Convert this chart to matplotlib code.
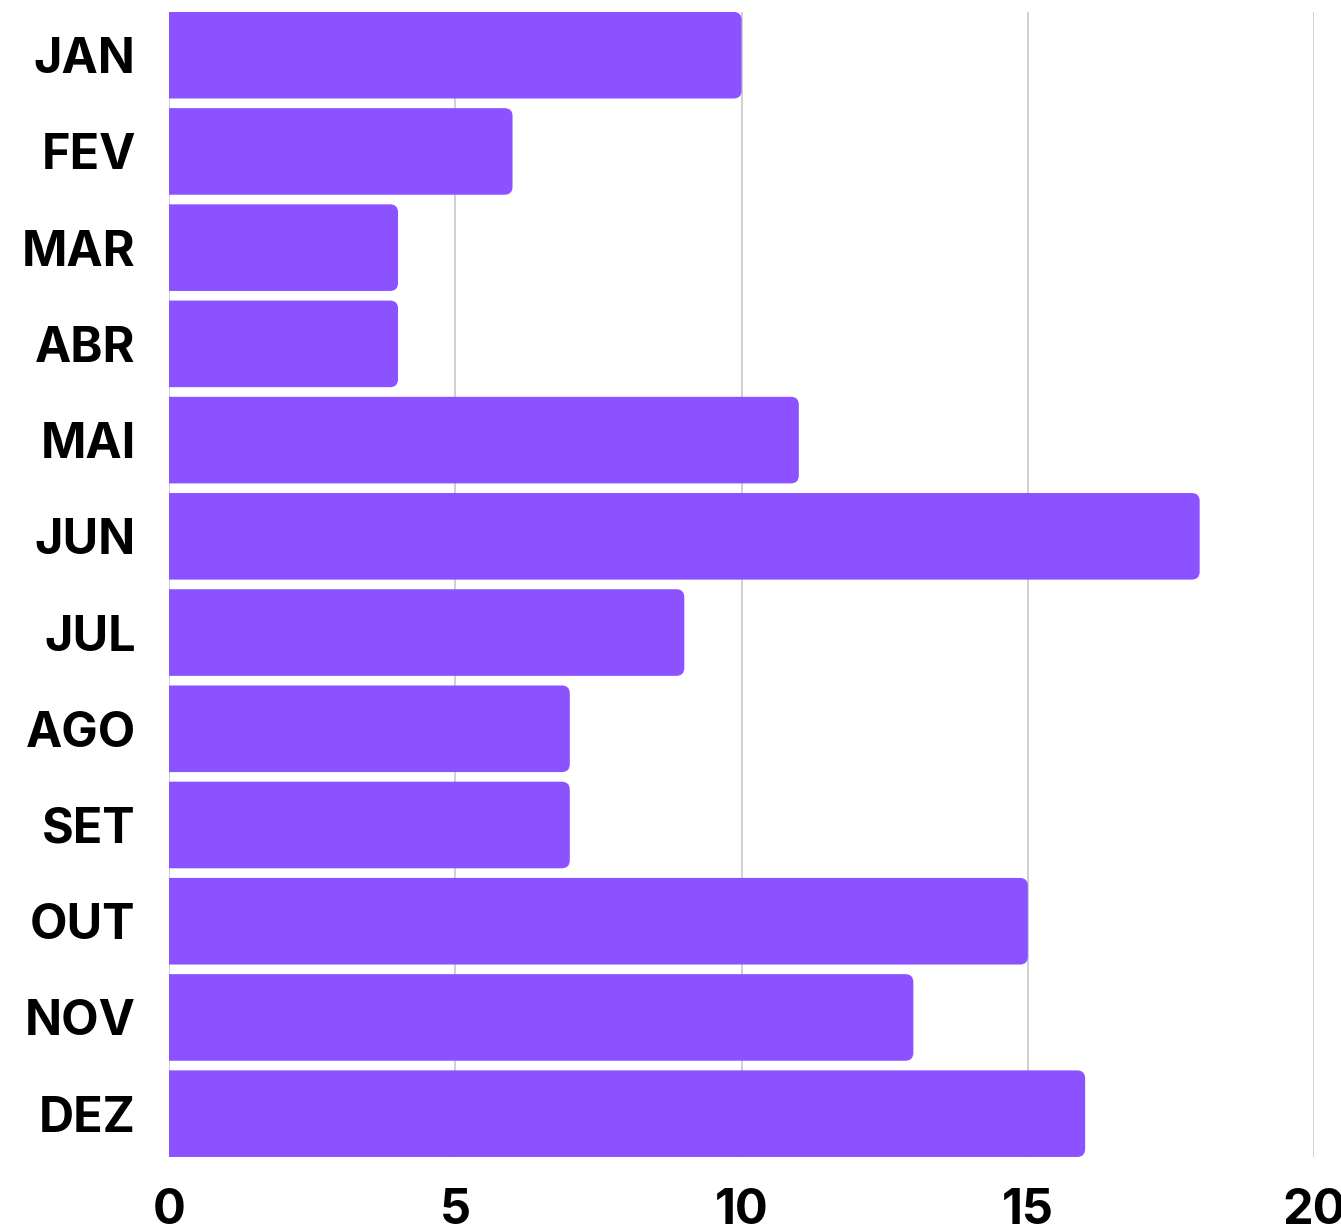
import matplotlib.pyplot as plt
from matplotlib.path import Path
from matplotlib.patches import PathPatch

plt.rcParams['font.family'] = ['Inter', 'DejaVu Sans']

months = ['JAN', 'FEV', 'MAR', 'ABR', 'MAI', 'JUN', 'JUL', 'AGO', 'SET', 'OUT', 'NOV', 'DEZ']
values = [10, 6, 4, 4, 11, 18, 9, 7, 7, 15, 13, 16]
xticks = [0, 5, 10, 15, 20]

bar_color = '#8c52ff'

fig = plt.figure(figsize=(13.41, 12.26), dpi=100)
ax = fig.add_axes([0.126, 0.0563, 0.854, 0.934])

bars = ax.barh(range(len(months)), values, height=0.9, color=bar_color, zorder=2)

ax.set_xlim(0, 20)
ax.set_ylim(11.45, -0.45)

# round the right end of each bar (radius ~8 px)
rx = 8 / 57.25
ry = 8 / 96.4
for r in bars:
    x0, y0, w, h = r.get_x(), r.get_y(), r.get_width(), r.get_height()
    x1, y1 = x0 + w, y0 + h
    verts = [(x0, y0), (x1 - rx, y0), (x1, y0), (x1, y0 + ry),
             (x1, y1 - ry), (x1, y1), (x1 - rx, y1), (x0, y1), (x0, y0)]
    codes = [Path.MOVETO, Path.LINETO, Path.CURVE3, Path.CURVE3,
             Path.LINETO, Path.CURVE3, Path.CURVE3, Path.LINETO, Path.CLOSEPOLY]
    r.set_visible(False)
    ax.add_patch(PathPatch(Path(verts, codes), facecolor=bar_color, edgecolor='none', zorder=2))

ax.set_yticks(range(len(months)))
ax.set_yticklabels(months)
ax.set_xticks(xticks)
ax.set_xticklabels([str(t) for t in xticks])
ax.tick_params(axis='both', length=0, labelsize=35)
ax.tick_params(axis='y', pad=24)
ax.tick_params(axis='x', pad=22)
for lab in ax.get_xticklabels() + ax.get_yticklabels():
    lab.set_fontweight('bold')

ax.grid(axis='x', color='#c8c8c8', linewidth=1.2, zorder=0)
ax.grid(axis='y', visible=False)
ax.set_axisbelow(True)
for s in ax.spines.values():
    s.set_visible(False)

fig.savefig('out.png', dpi=100)
